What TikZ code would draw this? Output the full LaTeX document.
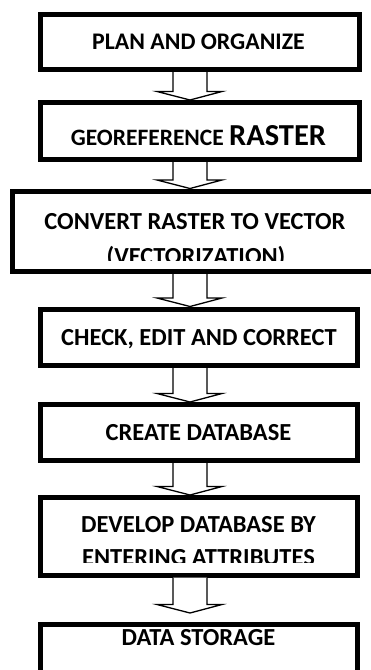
\documentclass[tikz,border=0pt]{standalone}
\usepackage{fontspec}
\setmainfont{Carlito}
\usetikzlibrary{calc}
\begin{document}
\begin{tikzpicture}[x=1pt,y=-1pt,
  stage/.style={draw=black, line width=5pt, inner sep=0pt, fill=white},
  caption/.style={font=\bfseries\fontsize{24.5}{29}\selectfont, anchor=base, inner sep=0pt},
  small/.style={font=\bfseries\fontsize{23.8}{28}\selectfont},
  flow/.style={draw=black, line width=1.3pt, fill=white, line join=miter}]
\clip (0,0) rectangle (371,670);
\fill[white] (0,0) rectangle (371,670);

% process stages
\node[stage, minimum width=319pt, minimum height=55pt]   (b1) at (200,42) {};
\node[stage, minimum width=319pt, minimum height=57pt]   (b2) at (200,131) {};
\node[stage, minimum width=365.5pt, minimum height=80.5pt] (b3) at (195.25,231.25) {};
\node[stage, minimum width=316.5pt, minimum height=56.5pt] (b4) at (198.75,337.25) {};
\node[stage, minimum width=317pt, minimum height=56pt]   (b5) at (199,432.5) {};
\node[stage, minimum width=317pt, minimum height=77.5pt] (b6) at (199,536.25) {};
\node[stage, minimum width=317pt, minimum height=65pt]   (b7) at (199,657) {};

% stage captions
\node[caption, small] (t1) at (198.5,49) {PLAN AND ORGANIZE};
\node[caption] (t2) at (198.5,145)
  {\fontsize{23.5}{28}\selectfont GEOREFERENCE \fontsize{30.5}{34}\selectfont RASTER};
\node[caption] (t3a) at (195,229) {CONVERT RASTER TO VECTOR};
\begin{scope}
  \clip (b3.north west) rectangle ($(b3.south east)+(0,-14)$);
  \node[caption] (t3b) at (196,264.5) {(VECTORIZATION)};
\end{scope}
\node[caption] (t4) at (199,345) {CHECK, EDIT AND CORRECT};
\node[caption] (t5) at (198.5,440) {CREATE DATABASE};
\node[caption] (t6a) at (198.5,532) {DEVELOP DATABASE BY};
\begin{scope}
  \clip (b6.north west) rectangle ($(b6.south east)+(0,-15.5)$);
  \node[caption] (t6b) at (198.5,565) {ENTERING ATTRIBUTES};
\end{scope}
\node[caption] (t7) at (198.5,645) {DATA STORAGE};

% hollow block arrows between stages
\coordinate (ax) at (190,0);
\newcommand\stepflow[3]{%
  \draw[flow] let \p1=(ax |- #1.south), \p2=(ax |- #2.north) in
    (\x1-17pt,\y1) -- (\x1-17pt,\y2+#3+8.5pt) -- (\x1-33pt,\y2+#3+8.5pt)
    -- (\x1,\y2+#3) -- (\x1+32pt,\y2+#3+8.5pt) -- (\x1+17pt,\y2+#3+8.5pt)
    -- (\x1+17pt,\y1);}
\stepflow{b1}{b2}{0pt}
\stepflow{b2}{b3}{0pt}
\stepflow{b3}{b4}{0pt}
\stepflow{b4}{b5}{0pt}
\stepflow{b5}{b6}{0pt}
\stepflow{b6}{b7}{9pt}
\end{tikzpicture}
\end{document}
